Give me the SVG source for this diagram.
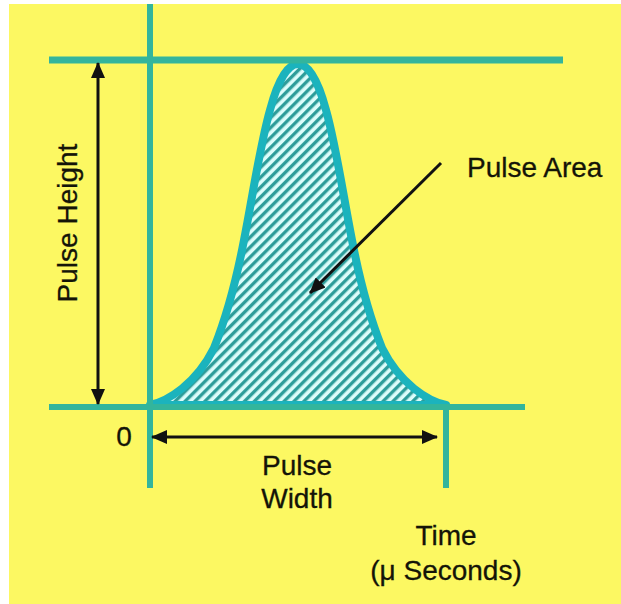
<svg xmlns="http://www.w3.org/2000/svg" width="621" height="604" viewBox="0 0 621 604">
  <style>
    .axis { stroke: #33b59c; fill: none; }
    .arrow { stroke: #111; stroke-width: 3; fill: none; }
    .lbl { font-family: "Liberation Sans", Arial, sans-serif; font-size: 28px; fill: #141408; stroke: #141408; stroke-width: 0.3; }
  </style>
  <defs>
    <pattern id="hatch" width="7" height="7" patternUnits="userSpaceOnUse" patternTransform="rotate(45)">
      <rect width="7" height="7" fill="#dcfdfb"/>
      <line x1="1.7" y1="0" x2="1.7" y2="7" stroke="#2c9c99" stroke-width="3.3"/>
    </pattern>
    <marker id="ah" viewBox="0 0 16 14" refX="15" refY="7" markerWidth="16" markerHeight="14" markerUnits="userSpaceOnUse" orient="auto-start-reverse">
      <path d="M0,0 L16,7 L0,14 Z" fill="#111"/>
    </marker>
  </defs>

  <rect x="0" y="0" width="621" height="604" fill="#ffffff"/>
  <rect x="9" y="4" width="612" height="600" fill="#fcf862"/>

  <g id="pulse">
    <path d="M150,405 C168,401 196,384 214,348 C226,318 236,282 244,240 C252,200 260,145 270,110 C278,80 288,64 298,64 C308,64 318,80 326,110 C336,145 344,200 352,240 C360,282 370,318 382,348 C400,384 428,401 446,405 Z" fill="url(#hatch)" stroke="#1bb3bd" stroke-width="8" stroke-linejoin="round"/>
  </g>

  <g id="axes">
    <line class="axis" x1="49" y1="60" x2="563" y2="60" stroke-width="7"/>
    <line class="axis" x1="49" y1="407" x2="525" y2="407" stroke-width="6"/>
    <line class="axis" x1="150" y1="4" x2="150" y2="488" stroke-width="6"/>
    <line class="axis" x1="446" y1="405" x2="446" y2="488" stroke-width="6"/>
  </g>

  <g id="connectors">
    <line class="arrow" x1="98" y1="63" x2="98" y2="404" marker-start="url(#ah)" marker-end="url(#ah)"/>
    <line class="arrow" x1="152" y1="437" x2="437" y2="437" marker-start="url(#ah)" marker-end="url(#ah)"/>
    <line class="arrow" x1="441" y1="163" x2="310" y2="293" marker-end="url(#ah)"/>
  </g>

  <g id="label-height">
    <text class="lbl" text-anchor="middle" transform="translate(77,223) rotate(-90)">Pulse Height</text>
  </g>
  <g id="label-area">
    <text class="lbl" x="467" y="177">Pulse Area</text>
  </g>
  <g id="label-zero">
    <text class="lbl" x="124" y="446" text-anchor="middle">0</text>
  </g>
  <g id="label-width">
    <text class="lbl" x="297" y="475" text-anchor="middle">Pulse</text>
    <text class="lbl" x="297" y="508" text-anchor="middle">Width</text>
  </g>
  <g id="label-time">
    <text class="lbl" x="446" y="545" text-anchor="middle">Time</text>
    <text class="lbl" x="446" y="580" text-anchor="middle">(μ Seconds)</text>
  </g>
</svg>
